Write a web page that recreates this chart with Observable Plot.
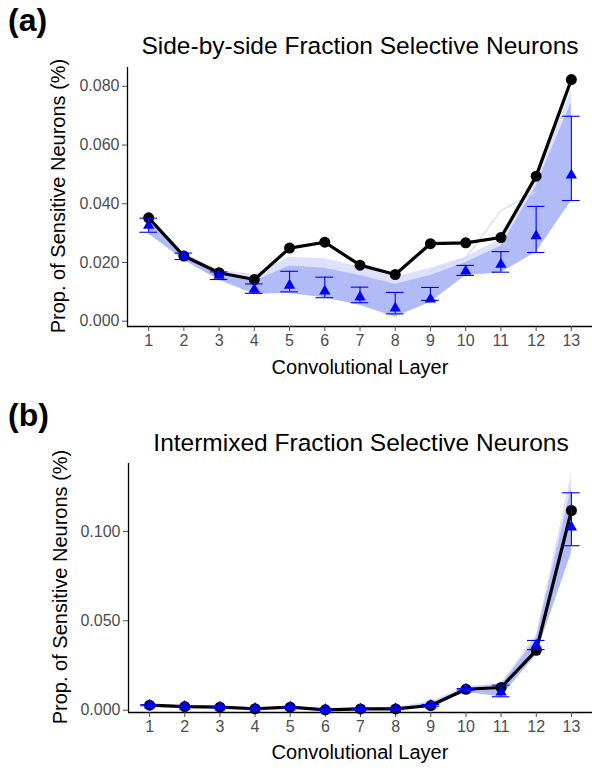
<!DOCTYPE html>
<html>
<head>
<meta charset="utf-8">
<script src="https://cdn.jsdelivr.net/npm/d3@7"></script>
<script src="https://cdn.jsdelivr.net/npm/@observablehq/plot@0.6"></script>
<style>
  html, body { margin: 0; padding: 0; background: #fff; }
  #root { position: relative; width: 592px; height: 771px; font-family: "Liberation Sans", Arial, sans-serif; overflow: hidden; }
  .panel { position: absolute; left: 0; width: 592px; }
  .abs { position: absolute; white-space: nowrap; color: #000; }
  .tag { font-weight: bold; font-size: 32px; }
  .title { font-size: 24.5px; transform: translate(-50%, -50%); }
  .xt { font-size: 20px; transform: translate(-50%, -50%); }
  .yt { font-size: 20px; transform: translate(-50%, -50%) rotate(-90deg); }
</style>
</head>
<body>
<div id="root"></div>
<script>
// ---------- data ----------
const layers = [1, 2, 3, 4, 5, 6, 7, 8, 9, 10, 11, 12, 13];

// Panel (a): Side-by-side
const obsA   = [0.0352, 0.0222, 0.0165, 0.0142, 0.0249, 0.0269, 0.0191, 0.0159, 0.0264, 0.0267, 0.0285, 0.0494, 0.0823];
const meanA  = [0.0326, 0.0220, 0.0156, 0.0108, 0.0122, 0.0102, 0.0082, 0.0044, 0.0075, 0.0170, 0.0193, 0.0290, 0.0497];
const hiA    = [0.0351, 0.0232, 0.0168, 0.0127, 0.0170, 0.0150, 0.0116, 0.0098, 0.0115, 0.0190, 0.0237, 0.0391, 0.0698];
const loA    = [0.0303, 0.0210, 0.0142, 0.0095, 0.0100, 0.0080, 0.0063, 0.0025, 0.0071, 0.0156, 0.0167, 0.0234, 0.0411];
const bandHiA    = [0.0346, 0.0233, 0.0172, 0.0160, 0.0218, 0.0213, 0.0184, 0.0150, 0.0180, 0.0218, 0.0280, 0.0490, 0.0786];
const bandCoreA  = [0.0340, 0.0229, 0.0166, 0.0135, 0.0188, 0.0180, 0.0156, 0.0126, 0.0156, 0.0200, 0.0255, 0.0460, 0.0745];
const bandLoA    = [0.0298, 0.0208, 0.0140, 0.0093, 0.0094, 0.0080, 0.0054, 0.0014, 0.0065, 0.0156, 0.0165, 0.0235, 0.0410];
const outlierLayersA = [9, 10, 11, 12];
const outlierA       = [0.0170, 0.0215, 0.0377, 0.0440];
const yTicksA = [0, 0.02, 0.04, 0.06, 0.08];
const yDomA = [-0.0018, 0.0864];

// Panel (b): Intermixed
const obsB   = [0.0028, 0.0020, 0.0017, 0.0008, 0.0017, 0.0002, 0.0007, 0.0007, 0.0026, 0.0117, 0.0127, 0.0335, 0.1117];
const meanB  = [0.0028, 0.0021, 0.0017, 0.0009, 0.0017, 0.0003, 0.0007, 0.0008, 0.0027, 0.0117, 0.0100, 0.0363, 0.1024];
const hiB    = [0.0031, 0.0024, 0.0020, 0.0012, 0.0020, 0.0006, 0.0010, 0.0011, 0.0032, 0.0121, 0.0140, 0.0390, 0.1216];
const loB    = [0.0025, 0.0018, 0.0014, 0.0006, 0.0014, 0.0001, 0.0004, 0.0005, 0.0022, 0.0113, 0.0075, 0.0339, 0.0920];
const bandHiB    = [0.0032, 0.0025, 0.0021, 0.0013, 0.0021, 0.0007, 0.0012, 0.0016, 0.0050, 0.0130, 0.0150, 0.0420, 0.1320];
const bandCoreB  = [0.0031, 0.0024, 0.0020, 0.0012, 0.0020, 0.0006, 0.0010, 0.0012, 0.0038, 0.0125, 0.0140, 0.0400, 0.1240];
const bandLoB    = [0.0024, 0.0017, 0.0013, 0.0005, 0.0013, 0.0000, 0.0003, 0.0004, 0.0020, 0.0100, 0.0075, 0.0310, 0.0880];
const yTicksB = [0, 0.05, 0.1];
const yDomB = [-0.0013, 0.138];

const xDom = [0.4, 13.6];
const BLUE = "#0000ff";

function rows(obs, mean, hi, lo, bHi, bCore, bLo) {
  return layers.map((l, i) => ({layer: l, obs: obs[i], mean: mean[i], hi: hi[i], lo: lo[i], bHi: bHi[i], bCore: bCore[i], bLo: bLo[i]}));
}

function makePlot(data, opts) {
  const marks = [
    Plot.areaY(data, {x: "layer", y1: "bLo", y2: "bHi", fill: "#dde1fc"}),
    Plot.areaY(data, {x: "layer", y1: "bLo", y2: "bCore", fill: "#b1bbf7"}),
  ];
  if (opts.outlier) {
    marks.push(Plot.line(opts.outlier, {x: "layer", y: "v", stroke: "#d3d8fa", strokeWidth: 1.2}));
  }
  marks.push(
    Plot.ruleX([xDom[0]], {stroke: "#000", strokeWidth: 1.3}),
    Plot.ruleY([opts.yDom[0]], {stroke: "#000", strokeWidth: 1.3}),
    Plot.axisX({ticks: layers, tickFormat: d3.format("d"), tickSize: 5, tickPadding: 3, fontSize: 16, color: "#4d4d4d", label: null}),
    Plot.axisY({ticks: opts.yTicks, tickFormat: d3.format(".3f"), tickSize: 5, tickPadding: 3, fontSize: 16, color: "#4d4d4d", label: null}),
    Plot.line(data, {x: "layer", y: "obs", stroke: "#000", strokeWidth: 3.2}),
    Plot.dot(data, {x: "layer", y: "obs", r: 5.5, fill: "#000"}),
    Plot.ruleX(data, {x: "layer", y1: "lo", y2: "hi", stroke: BLUE, strokeWidth: 1.1}),
    Plot.ruleY(data, {y: "hi", x1: d => d.layer - 0.25, x2: d => d.layer + 0.25, stroke: BLUE, strokeWidth: 1.1}),
    Plot.ruleY(data, {y: "lo", x1: d => d.layer - 0.25, x2: d => d.layer + 0.25, stroke: BLUE, strokeWidth: 1.1}),
    Plot.dot(data, {x: "layer", y: "mean", symbol: "triangle", r: 4.2, fill: BLUE, stroke: "none"})
  );
  return Plot.plot({
    width: 592,
    height: opts.height,
    marginTop: opts.mt,
    marginBottom: opts.mb,
    marginLeft: opts.ml,
    marginRight: 0,
    x: {domain: xDom, axis: null},
    y: {domain: opts.yDom, axis: null},
    style: {fontFamily: "Liberation Sans, Arial, sans-serif", background: "#fff", overflow: "visible"},
    marks
  });
}

const root = document.getElementById("root");

function addPanel(top, height, plot, t) {
  const p = document.createElement("div");
  p.className = "panel";
  p.style.top = top + "px";
  p.style.height = height + "px";
  plot.style.position = "absolute";
  plot.style.left = "0px";
  plot.style.top = "0px";
  p.appendChild(plot);
  const mk = (cls, txt, x, y) => {
    const e = document.createElement("div");
    e.className = "abs " + cls;
    e.textContent = txt;
    e.style.left = x + "px";
    e.style.top = y + "px";
    p.appendChild(e);
  };
  mk("tag", t.tag, 8, t.tagY);
  mk("title", t.title, t.titleX, t.titleY);
  mk("yt", "Prop. of Sensitive Neurons (%)", t.ytX, t.ytY);
  mk("xt", "Convolutional Layer", t.xtX, t.xtY);
  root.appendChild(p);
}

const dataA = rows(obsA, meanA, hiA, loA, bandHiA, bandCoreA, bandLoA);
const outA = outlierLayersA.map((l, i) => ({layer: l, v: outlierA[i]}));
const plotA = makePlot(dataA, {height: 385, mt: 67, mb: 59, ml: 127, yDom: yDomA, yTicks: yTicksA, outlier: outA});
addPanel(0, 385, plotA, {tag: "(a)", tagY: 2, title: "Side-by-side Fraction Selective Neurons", titleX: 360, titleY: 46, ytX: 58, ytY: 196, xtX: 360, xtY: 367});

const dataB = rows(obsB, meanB, hiB, loB, bandHiB, bandCoreB, bandLoB);
const plotB = makePlot(dataB, {height: 386, mt: 78, mb: 59, ml: 128, yDom: yDomB, yTicks: yTicksB, outlier: null});
addPanel(385, 386, plotB, {tag: "(b)", tagY: 12, title: "Intermixed Fraction Selective Neurons", titleX: 361, titleY: 58, ytX: 60, ytY: 202, xtX: 360, xtY: 367});
</script>
</body>
</html>
